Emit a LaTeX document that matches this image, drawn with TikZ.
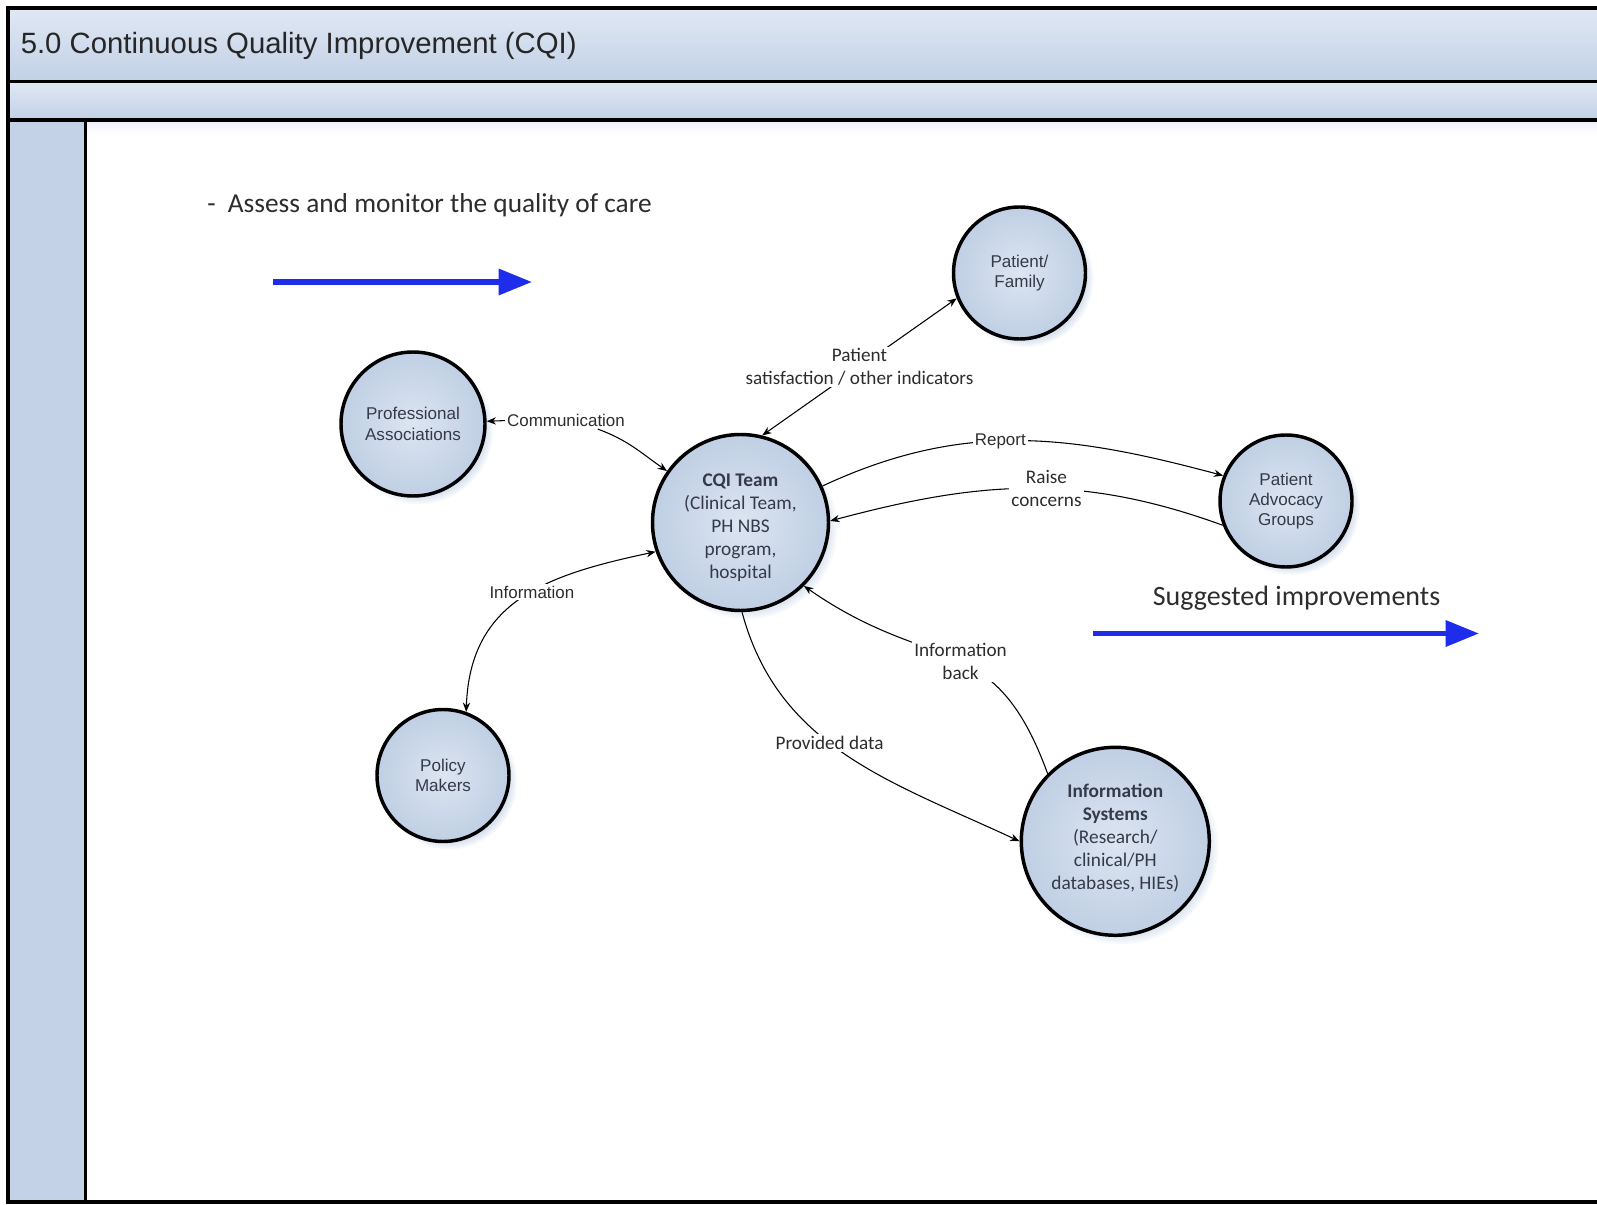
\documentclass[tikz,border=0pt]{standalone}
\usepackage{fontspec}
\setmainfont{Carlito}
\newfontfamily\arialf{Liberation Sans}
\usetikzlibrary{arrows.meta,shadows}
\definecolor{barA}{RGB}{224,232,244}
\definecolor{barB}{RGB}{194,209,230}
\definecolor{colfill}{RGB}{195,210,231}
\definecolor{circIn}{RGB}{220,229,241}
\definecolor{circOut}{RGB}{192,207,228}
\definecolor{txt}{RGB}{45,45,45}
\definecolor{ntxt}{RGB}{52,58,72}
\definecolor{bluearr}{RGB}{30,45,235}
\begin{document}
\begin{tikzpicture}[x=0.75pt,y=-0.75pt,
  bubble/.style={circle, draw=black, line width=2.6pt, inner color=circIn, outer color=circOut,
    minimum size=#1, inner sep=0pt, align=center, text=ntxt,
    font=\arialf\fontsize{12.8}{15.3}\selectfont,
    circular drop shadow={shadow xshift=4pt, shadow yshift=-4pt, shadow scale=1.04, fill=colfill, opacity=0.8}},
  cfont/.style={align=center, text=ntxt, font=\fontsize{14.5}{17.2}\selectfont},
  conn/.style={draw=black, line width=0.8pt},
  lab/.style={fill=white, inner sep=1.5pt, text=txt, align=center, font=\fontsize{14.4}{17}\selectfont},
  alab/.style={lab, font=\arialf\fontsize{12.7}{15}\selectfont},
  bigarrow/.style={draw=bluearr, line width=4pt, -{Triangle[length=25pt,width=19pt]}},
  >={Stealth[length=7pt,width=5.5pt]}
]
\useasboundingbox (0,0) rectangle (1597,1205);
\clip (0,0) rectangle (1597,1205);
\fill[white] (0,0) rectangle (1597,1205);
% frame
\fill[top color=barA, bottom color=barB] (8,8) rectangle (1600,81.5);
\fill[top color=barA, bottom color=barB] (8,81.5) rectangle (1600,120);
\fill[colfill] (8,120) rectangle (85.5,1202);
\fill[top color=barA!60, bottom color=white] (85.5,120) rectangle (1600,134);
\draw[line width=2.6pt] (1600,8) -- (8,8) -- (8,1202) -- (1600,1202);
\draw[line width=2.6pt] (8,81.5) -- (1600,81.5);
\draw[line width=2.6pt] (8,120) -- (1600,120);
\draw[line width=2.6pt] (85.5,120) -- (85.5,1202);
\node[anchor=west, inner sep=0pt, text=black!85, font=\arialf\fontsize{22}{26}\selectfont] (title) at (20.5,45.5) {5.0 Continuous Quality Improvement (CQI)};
% texts
\node[anchor=west, inner sep=0pt, text=txt, font=\fontsize{20.5}{24}\selectfont] (assess) at (207,205) {-\hspace{0.45em}Assess and monitor the quality of care};
\node[inner sep=0pt, text=txt, font=\fontsize{21}{25}\selectfont] (sugg) at (1296.5,598) {Suggested improvements};
% blue arrows
\coordinate (a1s) at (273,282);
\coordinate (a1e) at (532,282);
\coordinate (a2s) at (1093,633.5);
\coordinate (a2e) at (1479,633.5);
\draw[bigarrow] (a1s) -- (a1e);
\draw[bigarrow] (a2s) -- (a2e);
% nodes
\node[bubble=99pt] (pf) at (1019.5,273) {Patient/\\Family};
\node[bubble=108pt] (pa) at (413,424) {Professional\\Associations};
\node[bubble=132pt, label={[cfont, yshift=-4pt]center:{\textbf{CQI Team}\\(Clinical Team,\\PH NBS\\program,\\hospital}}] (cqi) at (740.5,522.5) {};
\node[bubble=99pt] (pag) at (1286,501) {Patient\\Advocacy\\Groups};
\node[bubble=99pt] (pm) at (443,775.5) {Policy\\Makers};
\node[bubble=141pt, label={[cfont, yshift=2.5pt]center:{\textbf{Information}\\\textbf{Systems}\\(Research/\\clinical/PH\\databases, HIEs)}}] (is) at (1115.3,841.3) {};
% connectors
\node[alab] (lcomm) at (566,420.6) {Communication};
\draw[conn,->] (lcomm.west) -- (pa);
\draw[conn,->] ([xshift=-22pt]lcomm.south east) to[out=-20,in=145] (cqi.145);
\draw[conn,<->] (cqi.76) -- node[lab] (lpat) {Patient\\satisfaction / other indicators} (pf.202);
\draw[conn,->] (cqi.24) to[out=25,in=165] node[alab,pos=0.45] (lrep) {Report} (pag.158);
\draw[conn,->] (pag.201) to[out=160,in=15] node[lab,pos=0.45] (lraise) {Raise\\concerns} (cqi.1);
\draw[conn,<->] (cqi.199) to[out=192,in=88,looseness=1.15] node[alab,pos=0.45] (linfo) {Information} (pm.70);
\draw[conn,->] (is.135) to[out=110,in=-35,looseness=1.3] node[lab,pos=0.47] (lback) {Information\\back} (cqi.-45);
\draw[conn,->] (cqi.-89) to[out=-75,in=155] node[lab,pos=0.44] (lprov) {Provided data} (is.180);
\end{tikzpicture}
\end{document}
